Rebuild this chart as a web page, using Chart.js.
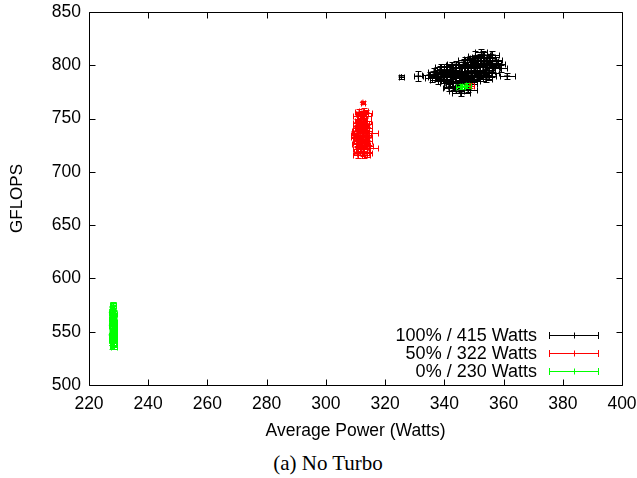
<!DOCTYPE html>
<html>
<head>
<meta charset="utf-8">
<script src="https://cdn.jsdelivr.net/npm/chart.js@4/dist/chart.umd.min.js"></script>
<style>
  html, body { margin:0; padding:0; background:#fff; width:637px; height:478px; overflow:hidden; }
  #wrap { position:relative; width:637px; height:478px; }
  #c { position:absolute; left:0; top:0; }
  #cap { position:absolute; left:0; width:656px; top:451px; text-align:center;
         font-family:"Liberation Serif","Times New Roman",serif; font-size:21px; color:#000; }
</style>
</head>
<body>
<div id="wrap">
  <canvas id="c" width="637" height="448"></canvas>
  <div id="cap">(a) No Turbo</div>
</div>
<script>
// ---- data ----
const seriesLabels = ["100% / 415 Watts", "50% / 322 Watts", "0% / 230 Watts"];
const seriesColors = ["#000000", "#ff0000", "#00ff00"];

const blackX    = [325.5,331.2,335,336.5,337.5,338.5,339.5,340,340.5,341,341.5,342,342.5,343,343.5,344,344.5,345,345.5,345.5,346,346.5,347,347.5,348,348.5,349,349.5,350,350.5,351,351.5,352,352.5,353,353.5,354,354.5,355,355.5,356.5,357.5,361.2,348,344,
                   336,337,338,339,339,340,341,341,342,342,343,343,344,344,345,345,345,346,346,346,347,347,347,348,348,348,349,349,349,350,350,350,351,351,351,352,352,352,353,353,353,354,354,355,355,355,356,356,357,358,359,356,343,344,340,338];
const blackY    = [789,790,791,794,789,796,787,792,783,798,779,790,800,785,794,801,781,790,797,774,786,803,793,784,799,806,790,801,787,809,795,804,791,812,798,807,787,801,794,804,798,805,790,777,776,
                   788,792,790,793,798,789,786,794,796,784,791,798,788,795,783,793,800,791,797,780,788,798,805,782,791,795,785,797,803,793,797,805,789,800,807,794,799,808,789,802,810,796,804,790,800,808,793,802,797,801,797,810,780,792,796,786];
const blackXErr = [0.8,1.5,2.5,2,3,2,2.5,3,2,2.5,2,3,2,3,2.5,3,2,3,2,3,2.5,2,3,2.5,3,2,2.5,3,2,2.5,3,2,2.5,2,3,2.5,2,3,2,2.5,2,2,2.5,3,2.5,
                   2.5,2,3,2.5,2,3,2,2.5,3,2,2.5,3,2,2.5,3,2,2.5,3,2,2.5,3,2,2.5,3,2,2.5,3,2,2.5,3,2,2.5,3,2,2.5,3,2,2.5,3,2,2.5,3,2,2.5,3,2,2.5,3,2,2.5,2,2.5,3,2,2.5,3];
const blackYErr = [1.5,5,3,3,4,3,4,3,3,3,3,4,3,4,4,3,3,4,3,3,4,3,4,3,4,3,4,3,3,4,3,4,3,3,4,3,3,4,3,3,4,3,3,2,2,
                   4,3,4,3,3,4,3,4,3,3,4,3,4,3,3,4,3,4,3,3,4,3,3,4,3,4,3,3,4,3,4,3,3,4,3,4,3,3,4,3,3,4,3,4,3,3,4,3,4,3,3,3,3,4,3,4];

const redX    = [312.5,311,313.5,310.5,312.2,314,311,313.5,310,312,314,311,313.5,312,314.5,311,313,309.5,312,314,312.5,310.5,313,348.5,
                 310.8,312.5,314,310.5,313,311.8,314,310.4,312.8,311.5,313.2,310.6,312.2,313.8,311,312.5,310.4,314,311.8,313,310.8,312.6,314,311.4,313.2,312,313.6,312.2,311.2,312.8];
const redY    = [765,752,755,746,743,741,738,736,733,731,729,727,725,722,722,719,716,735,747,733,750,741,719,781,
                 716,718,718,721,721,724,724,726,727,729,730,730,733,735,735,737,738,738,740,742,743,745,745,748,748,750,752,754,756,757];
const redXErr = [0.6,2,2.2,1.5,2,1.5,2,4,1.5,2,1.5,2,1.5,2,3,1.5,2,1,1.5,1.5,1.5,1.5,1.5,1.5,
                 1.5,2,1.5,1.5,2,1.5,2,1.5,1.5,2,1.5,1.5,2,1.5,1.5,2,1.5,1.5,2,1.5,1.5,2,1.5,1.5,2,1.5,1.5,2,1.5,1.5];
const redYErr = [1.5,3,3,4,3,3,4,3,3,4,3,3,4,3,3,3,3,3,3,3,3,3,3,2,
                 3,3,4,3,3,4,3,3,4,3,3,4,3,3,4,3,3,4,3,3,4,3,3,4,3,3,4,3,3,3];

const greenX    = [228.2,227.8,228.4,227.9,228.3,227.8,228.5,228,228.4,227.8,228.2,228.3,227.9,228.6,228.1,345.5,347.5,
                   227.8,228.3,227.9,228.4,228,228.2,227.7,228.4,227.9,228.3,227.8,228.1,228.5,227.6,228.6,227.7];
const greenY    = [574,570,566,562,558,555,552,548,545,542,539,536,560,550,565,780,781,
                   537,540,543,546,549,553,556,559,563,567,571,575,544,547,556,568];
const greenXErr = [0.8,0.8,0.8,1,0.8,1,0.8,1,0.8,1,0.8,1,0.8,0.8,0.8,1.5,1.5,
                   0.8,1,0.8,1,0.8,1,0.8,1,0.8,1,0.8,1,0.8,1,0.8,1];
const greenYErr = [3,3,3,4,3,3,3,4,3,3,3,2,3,3,3,2,2,
                   3,3,4,3,3,4,3,3,4,3,3,3,3,4,3,3];

const xMin = 220, xMax = 400, xStep = 20;
const yMin = 500, yMax = 850, yStep = 50;
const xTitle = "Average Power (Watts)";
const yTitle = "GFLOPS";

// ---- build ----
function pts(xs, ys, xe, ye) { return xs.map((x, i) => ({x: x, y: ys[i], xe: xe[i], ye: ye[i]})); }
const allData = [
  pts(blackX, blackY, blackXErr, blackYErr),
  pts(redX, redY, redXErr, redYErr),
  pts(greenX, greenY, greenXErr, greenYErr)
];

const FONT = "'Liberation Sans', Arial, Helvetica, sans-serif";
const PLOT_LEFT = 89, PLOT_BOTTOM = 385;
const CANVAS_H = 448;

const errPlugin = {
  id: 'errbars',
  beforeDatasetDraw(chart, args) {
    const ds = chart.data.datasets[args.index];
    const xs = chart.scales.x, ys = chart.scales.y, ctx = chart.ctx;
    const c = 3;
    ctx.save();
    ctx.strokeStyle = ds.borderColor;
    ctx.lineWidth = 1;
    ctx.beginPath();
    ds.data.forEach(p => {
      const px = Math.round(xs.getPixelForValue(p.x)) + 0.5;
      const py = Math.round(ys.getPixelForValue(p.y)) + 0.5;
      const x1 = Math.round(xs.getPixelForValue(p.x - p.xe)) + 0.5;
      const x2 = Math.round(xs.getPixelForValue(p.x + p.xe)) + 0.5;
      const y1 = Math.round(ys.getPixelForValue(p.y - p.ye)) + 0.5;
      const y2 = Math.round(ys.getPixelForValue(p.y + p.ye)) + 0.5;
      ctx.moveTo(x1, py); ctx.lineTo(x2, py);
      ctx.moveTo(x1, py - c); ctx.lineTo(x1, py + c);
      ctx.moveTo(x2, py - c); ctx.lineTo(x2, py + c);
      ctx.moveTo(px, y1); ctx.lineTo(px, y2);
      ctx.moveTo(px - c, y1); ctx.lineTo(px + c, y1);
      ctx.moveTo(px - c, y2); ctx.lineTo(px + c, y2);
    });
    ctx.stroke();
    ctx.restore();
  },
  afterDraw(chart) {
    const ctx = chart.ctx, a = chart.chartArea;
    const xs = chart.scales.x, ys = chart.scales.y;
    const L = Math.round(a.left) + 0.5, R = Math.round(a.right) + 0.5;
    const T = Math.round(a.top) + 0.5, B = Math.round(a.bottom) + 0.5;
    ctx.save();
    ctx.strokeStyle = '#000';
    ctx.lineWidth = 1;
    ctx.beginPath();
    ctx.rect(L, T, R - L, B - T);
    const tl = 6;
    ys.ticks.forEach(t => {
      const y = Math.round(ys.getPixelForValue(t.value)) + 0.5;
      ctx.moveTo(L, y); ctx.lineTo(L + tl, y);
      ctx.moveTo(R, y); ctx.lineTo(R - tl, y);
    });
    xs.ticks.forEach(t => {
      const x = Math.round(xs.getPixelForValue(t.value)) + 0.5;
      ctx.moveTo(x, B); ctx.lineTo(x, B - tl);
      ctx.moveTo(x, T); ctx.lineTo(x, T + tl);
    });
    ctx.stroke();

    // legend (gnuplot style, bottom right inside the plot)
    ctx.font = "18px " + FONT;
    ctx.textAlign = 'right';
    ctx.textBaseline = 'middle';
    const rows = [a.bottom - 50, a.bottom - 32, a.bottom - 14];
    const tx = a.right - 85, s1 = a.right - 73, s2 = a.right - 24, sm = (s1 + s2) / 2;
    seriesLabels.forEach((lab, i) => {
      const y = Math.round(rows[i]) + 0.5;
      ctx.fillStyle = '#000';
      ctx.fillText(lab, tx, y + 1);
      ctx.strokeStyle = seriesColors[i];
      ctx.beginPath();
      ctx.moveTo(Math.round(s1) + 0.5, y); ctx.lineTo(Math.round(s2) + 0.5, y);
      ctx.moveTo(Math.round(s1) + 0.5, y - 3.5); ctx.lineTo(Math.round(s1) + 0.5, y + 3.5);
      ctx.moveTo(Math.round(s2) + 0.5, y - 3.5); ctx.lineTo(Math.round(s2) + 0.5, y + 3.5);
      ctx.moveTo(Math.round(sm) + 0.5, y - 3); ctx.lineTo(Math.round(sm) + 0.5, y + 3);
      ctx.stroke();
    });
    ctx.restore();
  }
};

new Chart(document.getElementById('c'), {
  type: 'scatter',
  data: {
    datasets: allData.map((d, i) => ({
      label: seriesLabels[i],
      data: d,
      borderColor: seriesColors[i],
      backgroundColor: seriesColors[i],
      pointStyle: 'cross',
      pointRadius: 3,
      pointBorderWidth: 1,
      order: 3 - i
    }))
  },
  options: {
    responsive: false,
    devicePixelRatio: 1,
    animation: false,
    events: [],
    layout: { padding: { top: 12, right: 15, left: 0, bottom: 0 } },
    plugins: { legend: { display: false }, tooltip: { enabled: false } },
    scales: {
      x: {
        type: 'linear', min: xMin, max: xMax,
        grid: { display: false, drawTicks: false },
        border: { display: false },
        ticks: { stepSize: xStep, color: '#000', font: { size: 17.5, family: FONT }, padding: 9, maxRotation: 0 },
        title: { display: true, text: xTitle, color: '#000', font: { size: 17.5, family: FONT }, padding: { top: 0, bottom: 6.5 } },
        afterFit(scale) { scale.height = CANVAS_H - PLOT_BOTTOM; scale.paddingLeft = 0; scale.paddingRight = 0; }
      },
      y: {
        type: 'linear', min: yMin, max: yMax,
        grid: { display: false, drawTicks: false },
        border: { display: false },
        ticks: { stepSize: yStep, color: '#000', font: { size: 17.5, family: FONT }, padding: 8 },
        title: { display: true, text: yTitle, color: '#000', font: { size: 17, family: FONT }, padding: { top: 7.3, bottom: 0 } },
        afterFit(scale) { scale.width = PLOT_LEFT; scale.paddingTop = 0; scale.paddingBottom = 0; }
      }
    }
  },
  plugins: [errPlugin]
});
</script>
</body>
</html>
